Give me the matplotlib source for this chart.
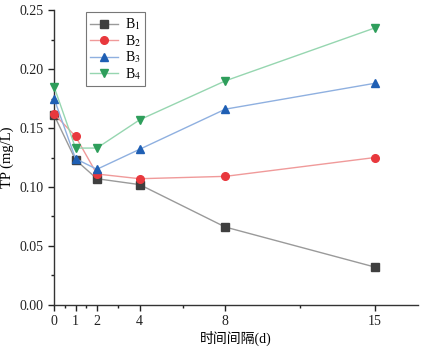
import matplotlib
matplotlib.use('Agg')
import matplotlib.pyplot as plt
from matplotlib.ticker import FixedLocator, MultipleLocator

plt.rcParams['font.family'] = ['Liberation Serif', 'Noto Sans CJK SC']
plt.rcParams['mathtext.fontset'] = 'stix'

days = [0, 1, 2, 4, 8, 15]
b1 = [0.161, 0.123, 0.107, 0.102, 0.066, 0.032]
b2 = [0.162, 0.143, 0.111, 0.107, 0.109, 0.125]
b3 = [0.175, 0.124, 0.115, 0.132, 0.166, 0.188]
b4 = [0.185, 0.133, 0.133, 0.157, 0.190, 0.235]

labels = ['B$_1$', 'B$_2$', 'B$_3$', 'B$_4$']
markers = ['s', 'o', '^', 'v']
marker_colors = ['#3f3f3f', '#e8383d', '#1f5fb4', '#2e9e5b']
line_colors = ['#9a9a9a', '#f09a9a', '#8fb0e0', '#96d6b0']

fig = plt.figure(figsize=(4.26, 3.5), dpi=100)
ax = fig.add_axes([0.127, 0.129, 0.854, 0.842])

for ys, lab, m, mc, lc in zip([b1, b2, b3, b4], labels, markers, marker_colors, line_colors):
    ax.plot(days, ys, color=lc, lw=1.0, marker=m, markersize=5.5,
            markerfacecolor=mc, markeredgecolor=mc, label=lab, clip_on=False, zorder=3)

ax.set_xlim(0, 17)
ax.set_ylim(0, 0.25)
ax.set_xticks(days)
ax.xaxis.set_minor_locator(FixedLocator([0.5, 1.5, 3, 6, 11.5]))
ax.yaxis.set_major_locator(MultipleLocator(0.05))
ax.yaxis.set_minor_locator(MultipleLocator(0.025))
ax.yaxis.set_major_formatter(plt.FormatStrFormatter('%.2f'))

for s in ['top', 'right']:
    ax.spines[s].set_visible(False)
for s in ['left', 'bottom']:
    ax.spines[s].set_color('#333333')
    ax.spines[s].set_linewidth(1.0)

ax.tick_params(which='major', direction='out', length=4, width=1, labelsize=10, colors='#222222')
ax.tick_params(which='minor', direction='out', length=2.5, width=1, colors='#222222')

ax.set_ylabel('TP (mg/L)', fontsize=10.5, labelpad=4)
ax.set_xlabel('时间间隔(d)', fontsize=10, labelpad=2)

leg = ax.legend(loc='upper left', bbox_to_anchor=(0.088, 0.993), borderaxespad=0,
                fontsize=10, frameon=True, fancybox=False, edgecolor='#555555',
                handlelength=2.0, labelspacing=0.05, borderpad=0.3, handletextpad=0.5)
leg.get_frame().set_linewidth(0.8)

fig.savefig('out.png', dpi=100)
